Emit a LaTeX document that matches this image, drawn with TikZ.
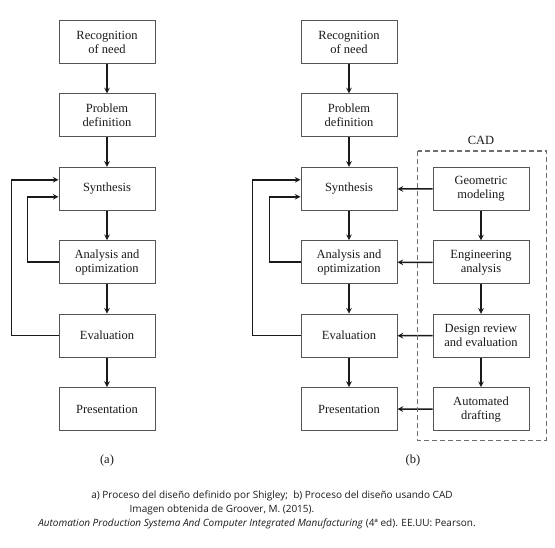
\documentclass[tikz,border=0pt]{standalone}
\usepackage{fontspec}
\setmainfont{Liberation Serif}
\newfontfamily\capfont{Open Sans}
\usetikzlibrary{shapes.geometric, arrows}
\definecolor{boxline}{HTML}{555555}
\definecolor{inkc}{HTML}{1A1A1A}
\tikzstyle{process} = [rectangle,
minimum width=96pt,
minimum height=43pt,
text centered,
align=center,
draw=boxline,line width=1pt,text=inkc,
font=\fontsize{12.5}{14}\selectfont]
\tikzstyle{arrow} = [line width=1.5pt,draw=inkc,->,>=stealth]
\tikzstyle{caption} = [font=\capfont\fontsize{10}{12}\selectfont,text=inkc]

\begin{document}
\begin{tikzpicture}[node distance=73.4pt]
\useasboundingbox (0,0) rectangle (555pt,-547pt);

% (a) Shigley
\node (rec1) [process] at (107pt,-42pt) {Recognition\\of need};
\node (prob1) [process, below of=rec1] {Problem\\definition};
\node (syn1) [process, below of=prob1] {Synthesis};
\node (ana1) [process, below of=syn1] {Analysis and\\optimization};
\node (eva1) [process, below of=ana1] {Evaluation};
\node (pre1) [process, below of=eva1] {Presentation};
\node (laba) [font=\fontsize{12.5}{14}\selectfont,text=inkc] at (107pt,-460pt) {(a)};

\draw [arrow] (rec1) -- (prob1);
\draw [arrow] (prob1) -- (syn1);
\draw [arrow] (syn1) -- (ana1);
\draw [arrow] (ana1) -- (eva1);
\draw [arrow] (eva1) -- (pre1);
\draw [arrow] (eva1.west) -- ++(-47pt,0) |- ([yshift=9pt]syn1.west);
\draw [arrow] (ana1.west) -- ++(-31pt,0) |- ([yshift=-8pt]syn1.west);

% (b) with CAD
\node (rec2) [process] at (349pt,-42pt) {Recognition\\of need};
\node (prob2) [process, below of=rec2] {Problem\\definition};
\node (syn2) [process, below of=prob2] {Synthesis};
\node (ana2) [process, below of=syn2] {Analysis and\\optimization};
\node (eva2) [process, below of=ana2] {Evaluation};
\node (pre2) [process, below of=eva2] {Presentation};
\node (labb) [font=\fontsize{12.5}{14}\selectfont,text=inkc] at (413pt,-460pt) {(b)};

\node (geo) [process] at (481pt,-189pt) {Geometric\\modeling};
\node (eng) [process, below of=geo] {Engineering\\analysis};
\node (rev) [process, below of=eng] {Design review\\and evaluation};
\node (auto) [process, below of=rev] {Automated\\drafting};

\draw [arrow] (rec2) -- (prob2);
\draw [arrow] (prob2) -- (syn2);
\draw [arrow] (syn2) -- (ana2);
\draw [arrow] (ana2) -- (eva2);
\draw [arrow] (eva2) -- (pre2);
\draw [arrow] (eva2.west) -- ++(-48pt,0) |- ([yshift=9pt]syn2.west);
\draw [arrow] (ana2.west) -- ++(-31pt,0) |- ([yshift=-8pt]syn2.west);

\draw [arrow] (geo) -- (eng);
\draw [arrow] (eng) -- (rev);
\draw [arrow] (rev) -- (auto);
\draw [arrow] (geo) -- (syn2);
\draw [arrow] (eng) -- (ana2);
\draw [arrow] (rev) -- (eva2);
\draw [arrow] (auto) -- (pre2);

% CAD frame
\draw [boxline!85, line width=1.2pt, dash pattern=on 5pt off 3pt] ([shift={(-15pt,16pt)}]geo.north west) rectangle ([shift={(17pt,-9pt)}]auto.south east);
\node (cad) [font=\fontsize{12.5}{14}\selectfont,text=inkc] at (481pt,-140pt) {CAD};

% caption
\node (cap1) [caption] at (272pt,-496pt) {a) Proceso del diseño definido por Shigley;\ \ b) Proceso del diseño usando CAD};
\node (cap2) [caption] at (222pt,-510pt) {Imagen obtenida de Groover, M. (2015).};
\node (cap3) [caption] at (257pt,-524pt) {\textit{Automation Production Systema And Computer Integrated Manufacturing} (4ª ed). EE.UU: Pearson.};

\end{tikzpicture}
\end{document}
